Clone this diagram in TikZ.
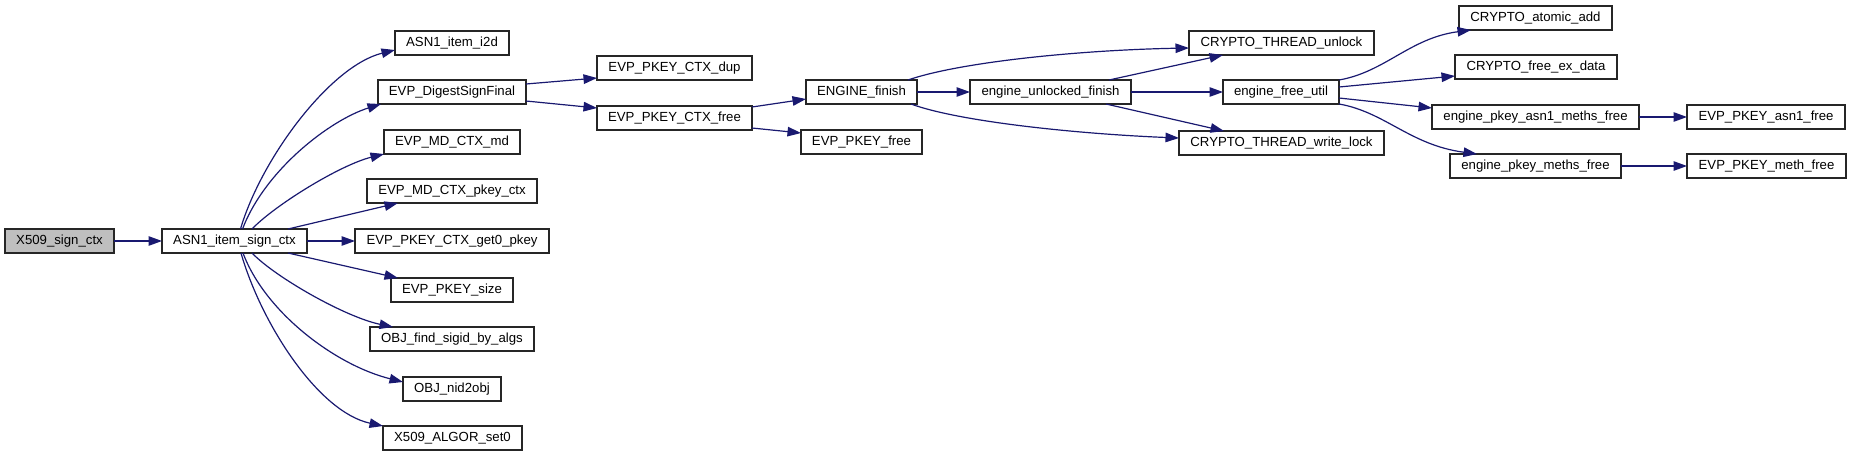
\documentclass[tikz,border=0pt]{standalone}
\usepackage{fontspec}
\setmainfont{Liberation Sans}
\usetikzlibrary{arrows.meta,calc}
\definecolor{edgeblue}{HTML}{191970}
\definecolor{boxgray}{HTML}{BFBFBF}
\tikzset{
  fn/.style={draw=black!85, line width=1.1pt, minimum height=24pt, inner sep=0pt, outer sep=0pt,
    font=\fontsize{13.2}{15}\selectfont, fill=white},
  call/.style={draw=edgeblue, line width=1.2pt, -{Triangle[length=13.5pt,width=9.5pt]}},
}
\begin{document}
\begin{tikzpicture}[x=1pt,y=-1pt]
\useasboundingbox (0,0) rectangle (1851,456);
% nodes
\node[fn, fill=boxgray, minimum width=109pt] (x509) at (59.5,241) {X509\_sign\_ctx};
\node[fn, minimum width=145pt] (asn) at (234.5,241) {ASN1\_item\_sign\_ctx};
\node[fn, minimum width=114pt] (i2d) at (452,43) {ASN1\_item\_i2d};
\node[fn, minimum width=148pt] (dsf) at (452,92) {EVP\_DigestSignFinal};
\node[fn, minimum width=136pt] (mdmd) at (452,142) {EVP\_MD\_CTX\_md};
\node[fn, minimum width=170pt] (pkeyctx) at (452,191) {EVP\_MD\_CTX\_pkey\_ctx};
\node[fn, minimum width=194pt] (get0) at (452,241) {EVP\_PKEY\_CTX\_get0\_pkey};
\node[fn, minimum width=122pt] (size) at (452,290) {EVP\_PKEY\_size};
\node[fn, minimum width=164pt] (objfind) at (452,339) {OBJ\_find\_sigid\_by\_algs};
\node[fn, minimum width=98pt] (nid) at (452,389) {OBJ\_nid2obj};
\node[fn, minimum width=139pt] (algor) at (452.5,438) {X509\_ALGOR\_set0};
\node[fn, minimum width=155pt] (ctxdup) at (674.5,68) {EVP\_PKEY\_CTX\_dup};
\node[fn, minimum width=155pt] (ctxfree) at (674.5,118) {EVP\_PKEY\_CTX\_free};
\node[fn, minimum width=111pt] (engfin) at (861.5,92) {ENGINE\_finish};
\node[fn, minimum width=121pt] (pkeyfree) at (861.5,142) {EVP\_PKEY\_free};
\node[fn, minimum width=161pt] (unl) at (1050.5,92) {engine\_unlocked\_finish};
\node[fn, minimum width=185pt] (tunlock) at (1281.5,43) {CRYPTO\_THREAD\_unlock};
\node[fn, minimum width=116pt] (futil) at (1281,92) {engine\_free\_util};
\node[fn, minimum width=205pt] (wlock) at (1281.5,143) {CRYPTO\_THREAD\_write\_lock};
\node[fn, minimum width=153pt] (atomic) at (1535.5,18) {CRYPTO\_atomic\_add};
\node[fn, minimum width=162pt] (exdata) at (1536,67) {CRYPTO\_free\_ex\_data};
\node[fn, minimum width=207pt] (asn1mf) at (1535.5,117) {engine\_pkey\_asn1\_meths\_free};
\node[fn, minimum width=171pt] (pmf) at (1535.5,166) {engine\_pkey\_meths\_free};
\node[fn, minimum width=158pt] (asn1free) at (1766,117) {EVP\_PKEY\_asn1\_free};
\node[fn, minimum width=159pt] (methfree) at (1766.5,166) {EVP\_PKEY\_meth\_free};
% edges
\draw[call] (x509.east) -- (asn.west);
\draw[call] ($(asn.north)+(6,0)$) .. controls (261,159) and (330,66) .. ($(i2d.west)+(0,7)$);
\draw[call] ($(asn.north)+(8,0)$) .. controls (265,170) and (330,120) .. ($(dsf.south west)+(3,0)$);
\draw[call] ($(asn.north)+(17.5,0)$) .. controls (275,205) and (340,165) .. (mdmd.south west);
\draw[call] ($(asn.north)+(53.5,0)$) -- ($(pkeyctx.south west)+(31,0)$);
\draw[call] (asn.east) -- (get0.west);
\draw[call] ($(asn.south)+(53.5,0)$) -- ($(size.north west)+(7,0)$);
\draw[call] ($(asn.south)+(17.5,0)$) .. controls (275,277) and (345,317) .. ($(objfind.north west)+(23,0)$);
\draw[call] ($(asn.south)+(8.5,0)$) .. controls (265,312) and (335,365) .. ($(nid.west)+(0,-7)$);
\draw[call] ($(asn.south)+(6.5,0)$) .. controls (261,323) and (318,412) .. (algor.north west);
\draw[call] ($(dsf.east)+(0,-8)$) -- ($(ctxdup.west)+(0,10)$);
\draw[call] ($(dsf.east)+(0,9)$) -- ($(ctxfree.west)+(0,-10)$);
\draw[call] ($(ctxfree.east)+(0,-11)$) -- ($(engfin.west)+(0,7)$);
\draw[call] ($(ctxfree.east)+(0,10)$) -- ($(pkeyfree.west)+(0,-9)$);
\draw[call] (engfin.east) -- (unl.west);
\draw[call] ($(engfin.north east)+(-9,0)$) .. controls (960,62) and (1080,50) .. ($(tunlock.west)+(0,5)$);
\draw[call] ($(engfin.south east)+(-6,0)$) .. controls (960,122) and (1080,134) .. ($(wlock.west)+(0,-5)$);
\draw[call] ($(unl.north east)+(-22,0)$) -- ($(tunlock.south west)+(34,0)$);
\draw[call] (unl.east) -- (futil.west);
\draw[call] ($(unl.south east)+(-25,0)$) -- ($(wlock.north west)+(45,0)$);
\draw[call] (futil.north east) .. controls (1385,72) and (1410,38) .. ($(atomic.south west)+(12,0)$);
\draw[call] ($(futil.east)+(0,-5)$) -- ($(exdata.west)+(0,9)$);
\draw[call] ($(futil.east)+(0,6)$) -- ($(asn1mf.west)+(0,-9)$);
\draw[call] (futil.south east) .. controls (1385,112) and (1410,145) .. ($(pmf.north west)+(27,0)$);
\draw[call] (asn1mf.east) -- (asn1free.west);
\draw[call] (pmf.east) -- (methfree.west);
\end{tikzpicture}
\end{document}
